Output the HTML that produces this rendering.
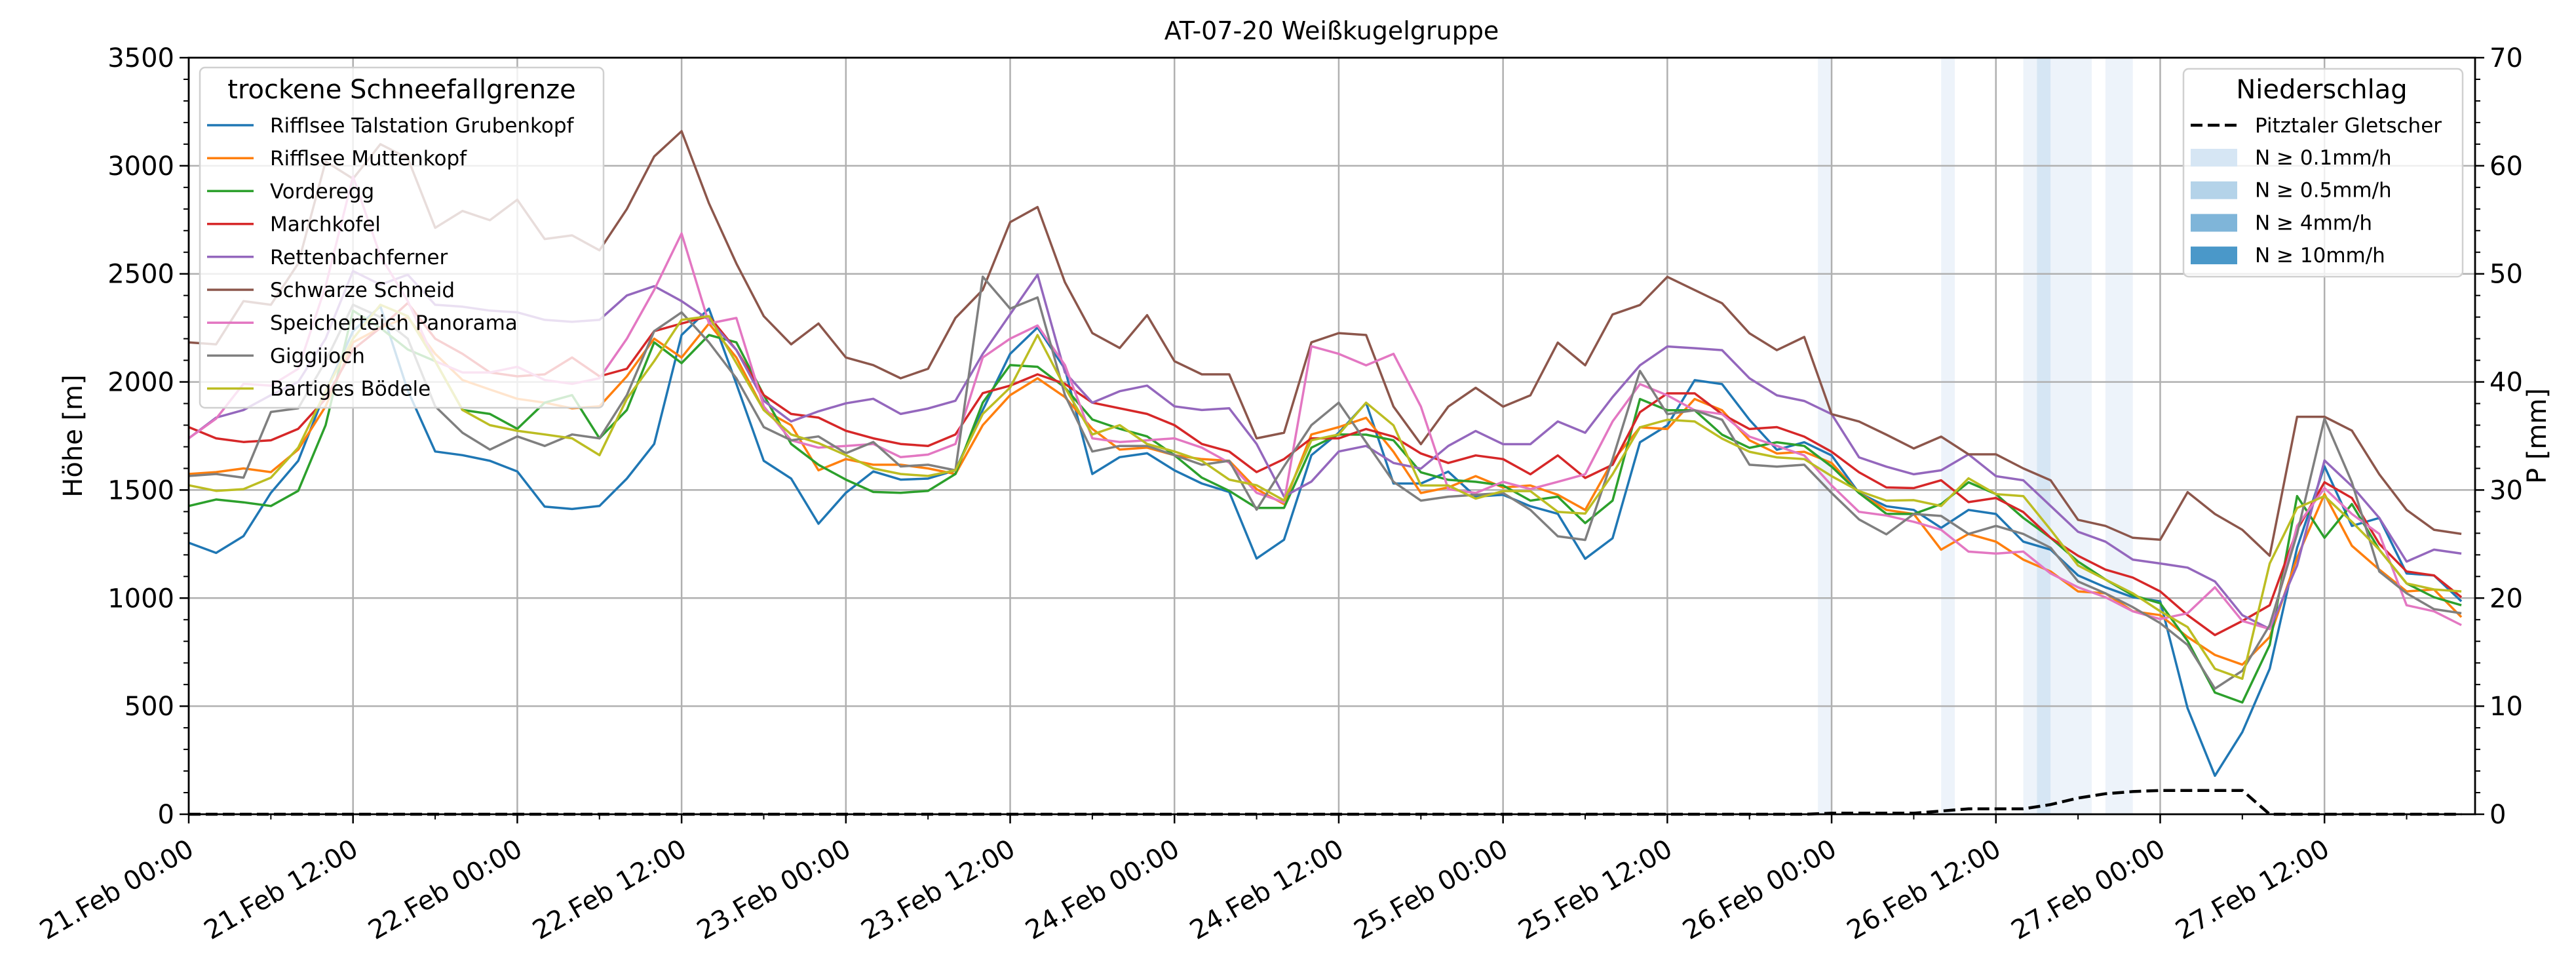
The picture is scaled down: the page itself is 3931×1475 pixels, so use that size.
<!DOCTYPE html>
<html><head><meta charset="utf-8"><title>AT-07-20 Weißkugelgruppe</title>
<style>
html,body{margin:0;padding:0;background:#fff;}
svg{display:block;font-family:"DejaVu Sans","Liberation Sans",sans-serif;}
</style></head>
<body>
<svg id="chart" width="3931" height="1475" viewBox="0 0 3931 1475" xmlns="http://www.w3.org/2000/svg">
<rect x="0" y="0" width="3931" height="1475" fill="#fff"/>
<g id="bands"></g>
<g id="grid"></g>
<g id="series"></g>
<g id="axes"></g>
<text x="2032" y="60" font-size="38" text-anchor="middle">AT-07-20 Weißkugelgruppe</text>
<text transform="translate(125,665) rotate(-90)" font-size="40" text-anchor="middle">Höhe [m]</text>
<text transform="translate(3885,665) rotate(-90)" font-size="40" text-anchor="middle">P [mm]</text>
<g id="legend1"></g>
<g id="legend2"></g>
</svg>
<script>
const seriesNames = ["Rifflsee Talstation Grubenkopf","Rifflsee Muttenkopf","Vorderegg","Marchkofel","Rettenbachferner","Schwarze Schneid","Speicherteich Panorama","Giggijoch","Bartiges Bödele"];
const seriesColors = ["#1f77b4","#ff7f0e","#2ca02c","#d62728","#9467bd","#8c564b","#e377c2","#7f7f7f","#bcbd22"];
const hours = Array.from({length:84},(_,i)=>i*2);
const rifflseeTal = [1256,1209,1287,1487,1635,1957,2235,2350,1960,1678,1661,1635,1586,1423,1412,1426,1553,1713,2217,2339,1991,1635,1553,1344,1487,1586,1548,1553,1591,1870,2130,2252,2060,1574,1652,1670,1591,1530,1491,1183,1270,1661,1765,1903,1530,1530,1585,1469,1478,1425,1390,1182,1277,1721,1799,2008,1990,1825,1686,1721,1660,1486,1425,1408,1325,1408,1389,1261,1224,1105,1050,1004,985,490,178,380,673,1233,1610,1334,1371,1114,1105,985];
const rifflseeMutt = [1574,1583,1600,1583,1687,1887,2183,2250,2300,2130,2009,1965,1922,1904,1878,1887,2026,2200,2113,2270,2113,1870,1800,1591,1643,1617,1617,1600,1574,1800,1939,2017,1930,1783,1687,1696,1661,1643,1635,1504,1435,1757,1791,1834,1677,1486,1512,1564,1512,1521,1478,1408,1634,1790,1782,1921,1869,1730,1669,1677,1625,1486,1408,1389,1224,1297,1261,1178,1123,1031,1022,939,921,820,737,692,820,1187,1481,1242,1132,1031,1040,912];
const vorderegg = [1426,1456,1443,1426,1496,1800,2330,2250,2150,2096,1870,1852,1783,1904,1939,1739,1870,2183,2087,2217,2183,1939,1713,1617,1548,1491,1487,1496,1574,1904,2078,2070,1974,1826,1783,1748,1661,1557,1496,1417,1417,1696,1757,1756,1730,1582,1547,1538,1521,1451,1469,1347,1451,1921,1869,1869,1756,1695,1721,1704,1608,1486,1390,1389,1435,1536,1481,1371,1279,1169,1086,1013,976,802,563,517,783,1472,1279,1435,1224,1068,1004,967];
const marchkofel = [1791,1739,1722,1730,1783,1922,2150,2250,2365,2200,2130,2044,2026,2035,2113,2026,2061,2235,2270,2304,2148,1939,1852,1835,1774,1739,1713,1704,1757,1948,1983,2035,1991,1904,1878,1852,1800,1713,1678,1583,1643,1739,1739,1782,1747,1669,1625,1660,1643,1573,1660,1556,1617,1860,1947,1947,1851,1782,1791,1747,1677,1582,1512,1509,1545,1444,1463,1398,1279,1196,1132,1095,1031,921,829,894,967,1316,1536,1463,1251,1123,1105,1004];
const rettenbach = [1739,1835,1870,1939,2000,2200,2513,2450,2496,2357,2348,2330,2322,2287,2278,2287,2400,2443,2374,2287,2148,1913,1817,1864,1901,1922,1852,1877,1913,2130,2313,2496,2044,1904,1957,1983,1887,1870,1878,1713,1470,1539,1678,1704,1625,1599,1704,1773,1712,1712,1817,1765,1930,2077,2164,2156,2147,2017,1938,1912,1851,1651,1608,1573,1591,1665,1564,1545,1426,1307,1261,1178,1160,1141,1077,921,857,1151,1637,1518,1371,1169,1224,1206];
const schwarze = [2183,2174,2374,2357,2548,3020,2940,3100,3035,2713,2791,2748,2843,2661,2678,2609,2800,3043,3160,2826,2548,2304,2174,2270,2113,2078,2017,2061,2296,2426,2739,2809,2461,2226,2157,2309,2096,2035,2035,1739,1765,2183,2226,2217,1886,1712,1886,1973,1886,1938,2182,2077,2312,2356,2486,2425,2364,2225,2147,2208,1851,1817,1756,1692,1747,1665,1665,1600,1545,1362,1334,1279,1270,1490,1389,1316,1196,1839,1839,1775,1573,1408,1316,1297];
const speicher = [1739,1830,1991,1983,2061,2443,2950,2583,2374,2096,2044,2044,2070,2009,1991,2017,2200,2426,2687,2270,2296,1887,1730,1696,1704,1713,1652,1664,1713,2113,2200,2261,2078,1739,1722,1730,1739,1696,1626,1487,1443,2165,2130,2077,2130,1886,1504,1486,1538,1504,1538,1573,1817,1990,1938,1869,1851,1747,1704,1660,1521,1399,1382,1353,1316,1215,1206,1215,1114,1050,1004,939,903,930,1050,894,857,1334,1509,1389,1297,967,939,875];
const giggijoch = [1565,1574,1557,1861,1878,2096,2357,2300,2200,1887,1765,1687,1748,1704,1757,1739,1939,2235,2322,2183,2017,1791,1730,1748,1670,1722,1609,1617,1591,2487,2339,2391,1939,1678,1704,1704,1661,1617,1635,1409,1609,1800,1904,1721,1538,1451,1469,1478,1486,1408,1286,1269,1643,2051,1851,1869,1825,1617,1608,1617,1486,1364,1295,1389,1380,1297,1334,1297,1233,1077,1022,958,884,783,581,664,875,1297,1830,1536,1123,1022,949,930];
const bartiges = [1522,1496,1504,1557,1696,1957,2200,2357,2304,2096,1870,1800,1774,1757,1739,1661,1922,2096,2287,2304,2087,1870,1757,1717,1661,1600,1574,1565,1591,1852,1974,2217,1974,1757,1800,1713,1678,1635,1548,1522,1452,1730,1757,1904,1799,1521,1521,1460,1495,1495,1399,1391,1573,1790,1825,1817,1738,1677,1651,1643,1564,1495,1451,1453,1426,1554,1481,1472,1316,1151,1086,1022,939,866,673,627,1160,1417,1472,1353,1224,1068,1040,1031];
const precipPitztal = [0,0,0,0,0,0,0,0,0,0,0,0,0,0,0,0,0,0,0,0,0,0,0,0,0,0,0,0,0,0,0,0,0,0,0,0,0,0,0,0,0,0,0,0,0,0,0,0,0,0,0,0,0,0,0,0,0,0,0,0,0.1,0.1,0.1,0.1,0.3,0.5,0.5,0.5,0.9,1.5,1.9,2.1,2.2,2.2,2.2,2.2,0,0,0,0,0,0,0,0];
const bandStart = [119,128,134,135,136,140];
const bandEnd = [120,129,135,136,139,142];
const bandLevel = [0,0,0,1,0,0];
const yTicks = [0,500,1000,1500,2000,2500,3000,3500];
const y2Ticks = [0,10,20,30,40,50,60,70];
const xTickLabels = ["21.Feb 00:00","21.Feb 12:00","22.Feb 00:00","22.Feb 12:00","23.Feb 00:00","23.Feb 12:00","24.Feb 00:00","24.Feb 12:00","25.Feb 00:00","25.Feb 12:00","26.Feb 00:00","26.Feb 12:00","27.Feb 00:00","27.Feb 12:00"];
const allSeries = [rifflseeTal,rifflseeMutt,vorderegg,marchkofel,rettenbach,schwarze,speicher,giggijoch,bartiges];

const L=288,R=3777,T=88,B=1242,HMAX=167,YMAX=3500,Y2MAX=70;
const NS="http://www.w3.org/2000/svg";
const xs=h=>L+(R-L)*h/HMAX;
const ys=v=>B-(B-T)*v/YMAX;
const ys2=v=>B-(B-T)*v/Y2MAX;
function mk(tag,attrs,parent){const e=document.createElementNS(NS,tag);for(const k in attrs)e.setAttribute(k,attrs[k]);parent.appendChild(e);return e;}

const gB=document.getElementById('bands');
const bandColors=["#edf3fa","#d6e6f4","#b4d3e9","#7fb5d9"];
bandStart.forEach((s,i)=>{
  const r=mk('rect',{x:xs(s),y:T,width:xs(bandEnd[i])-xs(s),height:B-T,fill:bandColors[bandLevel[i]]},gB);
  
  
});

const gG=document.getElementById('grid');
yTicks.forEach(v=>{const l=mk('line',{x1:L,x2:R,y1:ys(v),y2:ys(v),stroke:'#b0b0b0','stroke-width':2.5},gG);
  
  });
xTickLabels.forEach((t,i)=>{const x=xs(i*12);const l=mk('line',{x1:x,x2:x,y1:T,y2:B,stroke:'#b0b0b0','stroke-width':2.5},gG);
  
  });

const gS=document.getElementById('series');
allSeries.forEach((arr,si)=>{
  const pts=arr.map((v,i)=>xs(hours[i]).toFixed(1)+','+ys(v).toFixed(1)).join(' ');
  const p=mk('polyline',{points:pts,fill:'none',stroke:seriesColors[si],'stroke-width':3.5,'stroke-linejoin':'round'},gS);
  
  
});
const pp=precipPitztal.map((v,i)=>xs(hours[i]).toFixed(1)+','+ys2(v).toFixed(1)).join(' ');
const pl=mk('polyline',{points:pp,fill:'none',stroke:'#000','stroke-width':4.5,'stroke-dasharray':'18,8'},gS);



const gA=document.getElementById('axes');
mk('rect',{x:L,y:T,width:R-L,height:B-T,fill:'none',stroke:'#000','stroke-width':2.8},gA);
yTicks.forEach(v=>{
  mk('line',{x1:L-14,x2:L,y1:ys(v),y2:ys(v),stroke:'#000','stroke-width':2.5},gA);
  const t=mk('text',{x:L-22,y:ys(v)+14,'font-size':40,'text-anchor':'end'},gA);t.textContent=v;
  
  
});
for(let v=0;v<=YMAX;v+=100){if(v%500)mk('line',{x1:L-8,x2:L,y1:ys(v),y2:ys(v),stroke:'#000','stroke-width':2},gA);}
y2Ticks.forEach(v=>{
  mk('line',{x1:R,x2:R+14,y1:ys2(v),y2:ys2(v),stroke:'#000','stroke-width':2.5},gA);
  const t=mk('text',{x:R+22,y:ys2(v)+14,'font-size':40,'text-anchor':'start'},gA);t.textContent=v;
  
  
});
for(let v=0;v<=Y2MAX;v+=2){if(v%10)mk('line',{x1:R,x2:R+8,y1:ys2(v),y2:ys2(v),stroke:'#000','stroke-width':2},gA);}
xTickLabels.forEach((lab,i)=>{
  const x=xs(i*12);
  mk('line',{x1:x,x2:x,y1:B,y2:B+14,stroke:'#000','stroke-width':2.5},gA);
  const t=mk('text',{transform:`translate(${x-4},${B+36}) rotate(-30)`,'font-size':40,'text-anchor':'end','dominant-baseline':'hanging'},gA);
  t.textContent=lab;
  
  
});
for(let h=6;h<HMAX;h+=12){const x=xs(h);mk('line',{x1:x,x2:x,y1:B,y2:B+8,stroke:'#000','stroke-width':2},gA);}

const g1=document.getElementById('legend1');
mk('rect',{x:305,y:103,width:616,height:519,rx:8,fill:'#fff','fill-opacity':0.8,stroke:'#d0d0d0','stroke-width':2.5},g1);
const lt=mk('text',{x:613,y:150,'font-size':40,'text-anchor':'middle'},g1);lt.textContent='trockene Schneefallgrenze';
seriesNames.forEach((n,i)=>{
  const y=191+i*50.2;
  mk('line',{x1:316,x2:387,y1:y,y2:y,stroke:seriesColors[i],'stroke-width':3.5},g1);
  const t=mk('text',{x:412,y:y+11,'font-size':31},g1);t.textContent=n;
  
  
});

const g2=document.getElementById('legend2');
mk('rect',{x:3332,y:105,width:426,height:317,rx:8,fill:'#fff','fill-opacity':0.8,stroke:'#d0d0d0','stroke-width':2.5},g2);
const lt2=mk('text',{x:3543,y:150,'font-size':40,'text-anchor':'middle'},g2);lt2.textContent='Niederschlag';
mk('line',{x1:3343,x2:3414,y1:191,y2:191,stroke:'#000','stroke-width':4.5,'stroke-dasharray':'18,8'},g2);
const t0=mk('text',{x:3441,y:202,'font-size':31},g2);t0.textContent='Pitztaler Gletscher';


const patchLabels=['N ≥ 0.1mm/h','N ≥ 0.5mm/h','N ≥ 4mm/h','N ≥ 10mm/h'];
const patchCols=['#d6e6f4','#b4d3e9','#7fb5d9','#4a98c9'];
patchLabels.forEach((lab,i)=>{
  const y=240+i*49.7;
  mk('rect',{x:3343,y:y-13,width:71,height:27,fill:patchCols[i]},g2);
  const t=mk('text',{x:3441,y:y+11,'font-size':31},g2);t.textContent=lab;
  
  
});
</script>
</body></html>
